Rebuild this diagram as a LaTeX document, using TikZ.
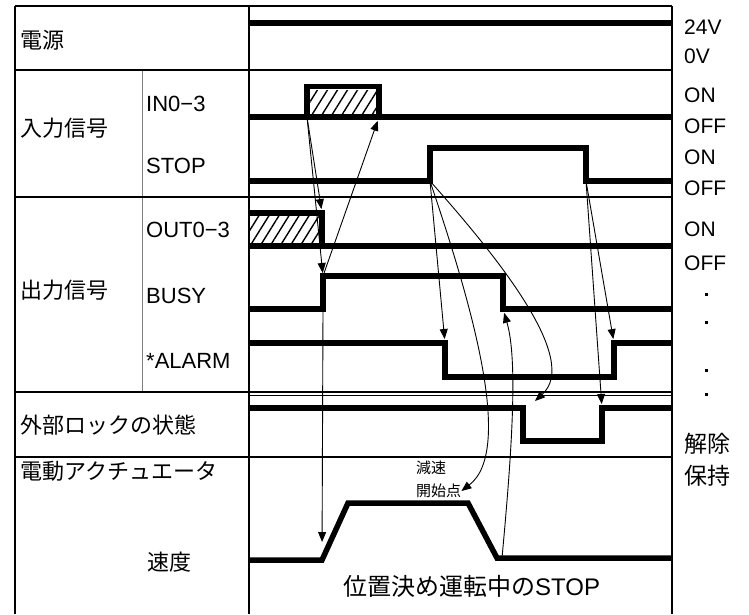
\documentclass[tikz,border=0pt]{standalone}
\usepackage{fontspec}
\setmainfont{Liberation Sans}
\newfontfamily\jp{Noto Sans CJK JP}
\usetikzlibrary{arrows.meta,patterns.meta}

\begin{document}
\begin{tikzpicture}[x=1pt, y=-1pt,
  sig/.style={line width=5.5pt},
  tableline/.style={line width=1.4pt},
  cue/.style={line width=0.9pt, -{Triangle[length=10pt, width=8pt]}},
  hatch/.style={pattern={Lines[angle=58, distance=8.5pt, line width=1.4pt]}},
  lbl/.style={anchor=west, inner sep=0pt, font=\fontsize{22}{24}\selectfont},
  jlbl/.style={anchor=west, inner sep=0pt, font=\jp\fontsize{22}{24}\selectfont},
  rlbl/.style={anchor=west, inner sep=0pt, font=\fontsize{21}{23}\selectfont}]

% Background and bounding box
\fill[white] (0, 0) rectangle (749, 614);
\useasboundingbox (0, 0) rectangle (749, 614);

% Draw table frame
\draw[tableline] (15, 6) -- (672, 6);
\draw[tableline] (15, 6) -- (15, 614);
\draw[tableline] (249, 6) -- (249, 614);
\draw[tableline] (672, 6) -- (672, 614);
\draw[gray, line width=1pt] (142, 70) -- (142, 392);
\foreach \y in {70, 197, 392, 457}
  \draw[tableline] (15, \y) -- (672, \y);
\draw[thin] (249, 395) -- (672, 395);

% Define signal edges
\coordinate (inUp) at (307, 117);
\coordinate (inDn) at (379, 117);
\coordinate (stopUp) at (430, 181);
\coordinate (stopDn) at (586, 181);
\coordinate (outDn) at (322, 213);
\coordinate (busyUp) at (323, 309);
\coordinate (busyTop) at (323, 276);
\coordinate (busyDn) at (503, 309);
\coordinate (alarmDn) at (445, 343);
\coordinate (alarmUp) at (614, 343);
\coordinate (lockDn) at (523, 408);
\coordinate (lockUp) at (602, 408);
\coordinate (lockMark) at (535, 401);
\coordinate (spGo) at (322, 560);
\coordinate (spStop) at (497, 558);

% Draw hatched data
\fill[hatch] (310, 90) rectangle (376, 114);
\fill[hatch] (249, 216) rectangle (319, 243);

% Draw signals
\draw[sig] (249, 23) -- (672, 23);
\draw[sig] (249, 117) -- (672, 117);
\draw[sig] (inUp) -- (307, 86.5) -- (379, 86.5) -- (inDn);
\draw[sig] (249, 181) -- (stopUp) -- (430, 148) -- (586, 148) -- (stopDn) -- (672, 181);
\draw[sig] (249, 213) -- (outDn) -- (322, 246);
\draw[sig] (249, 246) -- (672, 246);
\draw[sig] (249, 309) -- (busyUp) -- (busyTop) -- (503, 276) -- (busyDn) -- (672, 309);
\draw[sig] (249, 343) -- (alarmDn) -- (445, 377) -- (614, 377) -- (alarmUp) -- (672, 343);
\draw[sig] (249, 408) -- (lockDn) -- (523, 441) -- (602, 441) -- (lockUp) -- (672, 408);
\draw[sig] (249, 560) -- (spGo) -- (348, 503) -- (468, 503) -- (spStop) -- (672, 558);

% Label rows
\node[jlbl] (power) at (20, 40) {電源};
\node[jlbl] (inputs) at (20, 128) {入力信号};
\node[lbl] (inName) at (146, 104) {IN0−3};
\node[lbl] (stopName) at (146, 166) {STOP};
\node[jlbl] (outputs) at (20, 290) {出力信号};
\node[lbl] (outName) at (146, 230) {OUT0−3};
\node[lbl] (busyName) at (146, 296) {BUSY};
\node[lbl] (alarmName) at (146, 361) {*ALARM};
\node[jlbl] (lockName) at (20, 425) {外部ロックの状態};
\node[jlbl] (actName) at (20, 471) {電動アクチュエータ};
\node[jlbl] (speedName) at (147, 562) {速度};
\node[jlbl, font=\jp\fontsize{24}{26}\selectfont] (caption) at (343, 586) {位置決め運転中の{\rmfamily STOP}};
\node[jlbl, font=\jp\fontsize{15}{17}\selectfont] (decel) at (416, 468) {減速};
\node[jlbl, font=\jp\fontsize{15}{17}\selectfont] (startpt) at (416, 491) {開始点};

% Label levels
\foreach \txt/\y [count=\i] in {24V/27, 0V/56, ON/95, OFF/126, ON/157, OFF/188, ON/229, OFF/263}
  \node[rlbl] (lvl\i) at (684, \y) {\txt};
\foreach \y in {293, 321, 369, 393}
  \fill (704.5, \y) rectangle (707.5, \y+3);
\node[jlbl, font=\jp\fontsize{23}{25}\selectfont] (release) at (684, 444) {解除};
\node[jlbl, font=\jp\fontsize{23}{25}\selectfont] (hold) at (684, 476) {保持};

% Draw cause arrows
\draw[cue, shorten <=3pt, shorten >=4pt] (inUp) -- (outDn);
\draw[cue, shorten <=3pt, shorten >=3pt] (inUp) -- (busyTop);
\draw[cue, shorten <=3pt, shorten >=4pt] (busyTop) -- (inDn);
\draw[cue, shorten <=3pt, shorten >=18pt] (busyUp) -- (spGo);
\draw[cue, shorten <=3pt, shorten >=4pt] (stopUp) -- (alarmDn);
\draw[cue, shorten <=3pt] (stopUp) .. controls (470, 300) and (515, 450) .. (startpt.east);
\draw[cue, shorten <=3pt] (stopUp) .. controls (500, 260) and (580, 360) .. (lockMark);
\draw[cue, shorten >=4pt] ([xshift=5pt]spStop) .. controls (512, 450) and (518, 360) .. (busyDn);
\draw[cue, shorten <=3pt, shorten >=4pt] (stopDn) -- (alarmUp);
\draw[cue, shorten <=3pt, shorten >=4pt] (stopDn) -- (lockUp);

\end{tikzpicture}
\end{document}
